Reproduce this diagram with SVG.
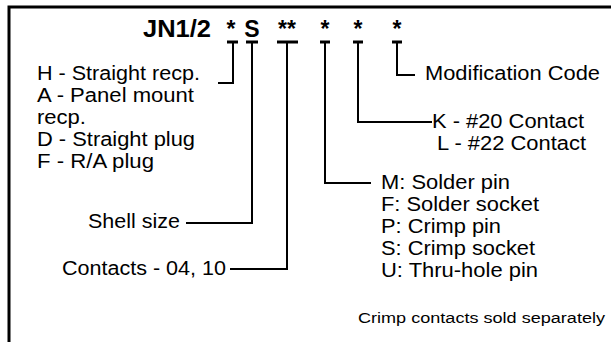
<svg xmlns="http://www.w3.org/2000/svg" width="611" height="342" viewBox="0 0 611 342">
<style>
text{font-family:"Liberation Sans",Arial,sans-serif;fill:#000}
.t{font-size:20px}
.h{font-size:23px;font-weight:bold;text-anchor:middle}
.s{font-size:15.5px}
.c{fill:none;stroke:#000;stroke-width:2}
.b{fill:none;stroke:#000;stroke-width:3}
</style>
<rect width="611" height="342" fill="#fff"/>
<path id="frame" class="b" d="M9 342V7H611"/>
<g id="title">
<text class="h" style="text-anchor:end" x="211" y="37" textLength="68" lengthAdjust="spacingAndGlyphs">JN1/2</text>
<text class="h" x="231" y="37">*</text>
<text class="h" x="252" y="37">S</text>
<text class="h" x="287" y="37">**</text>
<text class="h" x="325" y="37">*</text>
<text class="h" x="358" y="37">*</text>
<text class="h" x="397" y="37">*</text>
</g>
<g id="connectors">
<path class="b" d="M227 42h11M246 42h12M277 42h21M320 42h10M353 42h10M392 42h10"/>
<path class="c" d="M233 42V83H218"/>
<path class="c" d="M252 42V223H186"/>
<path class="c" d="M287 42V269H230"/>
<path class="c" d="M325 42V183H371"/>
<path class="c" d="M358 42V122H432"/>
<path class="c" d="M397 42V75H415"/>
</g>
<g id="style-options">
<text class="t" x="37" y="80" textLength="163" lengthAdjust="spacingAndGlyphs">H - Straight recp.</text>
<text class="t" x="37" y="102" textLength="157" lengthAdjust="spacingAndGlyphs">A - Panel mount</text>
<text class="t" x="37" y="124" textLength="49" lengthAdjust="spacingAndGlyphs">recp.</text>
<text class="t" x="37" y="146" textLength="158" lengthAdjust="spacingAndGlyphs">D - Straight plug</text>
<text class="t" x="37" y="168" textLength="117" lengthAdjust="spacingAndGlyphs">F - R/A plug</text>
</g>
<g id="shell-size">
<text class="t" x="180" y="228" style="text-anchor:end" textLength="92" lengthAdjust="spacingAndGlyphs">Shell size</text>
</g>
<g id="contacts">
<text class="t" x="226" y="275" style="text-anchor:end" textLength="164" lengthAdjust="spacingAndGlyphs">Contacts - 04, 10</text>
</g>
<g id="modification">
<text class="t" x="425" y="80" textLength="175" lengthAdjust="spacingAndGlyphs">Modification Code</text>
</g>
<g id="contact-size">
<text class="t" x="432" y="128" textLength="152" lengthAdjust="spacingAndGlyphs">K - #20 Contact</text>
<text class="t" x="437" y="150" textLength="149" lengthAdjust="spacingAndGlyphs">L - #22 Contact</text>
</g>
<g id="termination">
<text class="t" x="381" y="189" textLength="129" lengthAdjust="spacingAndGlyphs">M: Solder pin</text>
<text class="t" x="381" y="211" textLength="158" lengthAdjust="spacingAndGlyphs">F: Solder socket</text>
<text class="t" x="381" y="233" textLength="120" lengthAdjust="spacingAndGlyphs">P: Crimp pin</text>
<text class="t" x="381" y="255" textLength="154" lengthAdjust="spacingAndGlyphs">S: Crimp socket</text>
<text class="t" x="381" y="277" textLength="157" lengthAdjust="spacingAndGlyphs">U: Thru-hole pin</text>
</g>
<g id="note">
<text class="s" x="358" y="323" textLength="247" lengthAdjust="spacingAndGlyphs">Crimp contacts sold separately</text>
</g>
</svg>
